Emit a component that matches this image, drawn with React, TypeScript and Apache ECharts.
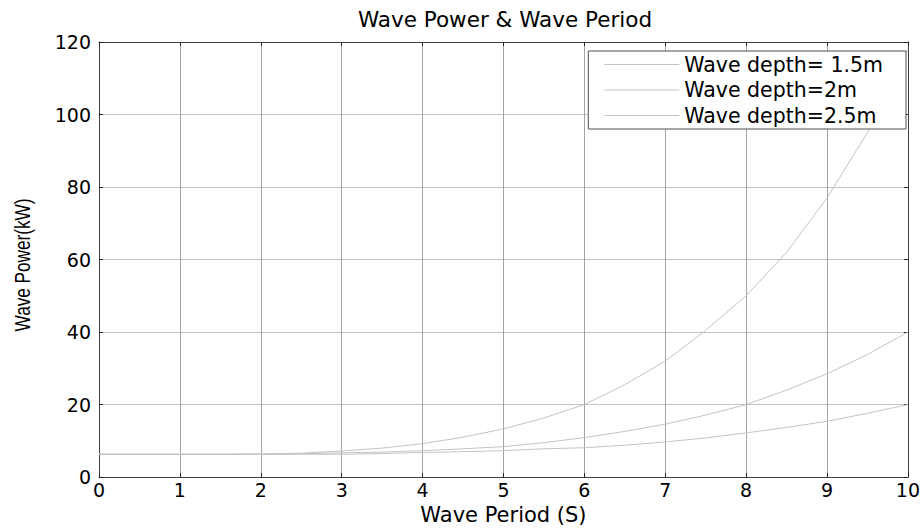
import React, { useEffect, useRef } from "react";
import * as echarts from "echarts";

const titleText = "Wave Power & Wave Period";
const xName = "Wave Period (S)";
const yName = "Wave Power(kW)";
const seriesNames = ["Wave depth= 1.5m", "Wave depth=2m", "Wave depth=2.5m"];

const periods = [0, 0.5, 1, 1.5, 2, 2.5, 3, 3.5, 4, 4.5, 5, 5.5, 6, 6.5, 7, 7.5, 8, 8.5, 9, 9.5, 10];
const depth15 = [6.3, 6.3, 6.3, 6.3, 6.4, 6.6, 7.2, 8.0, 9.2, 11.0, 13.3, 16.3, 20.0, 25.5, 32.0, 40.5, 50.0, 62.0, 77.0, 95.0, 118.0];
const depth20 = [6.3, 6.3, 6.3, 6.3, 6.3, 6.4, 6.7, 6.9, 7.3, 7.8, 8.4, 9.5, 10.9, 12.6, 14.6, 17.1, 20.0, 24.0, 28.5, 33.8, 40.0];
const depth25 = [6.3, 6.3, 6.3, 6.3, 6.3, 6.3, 6.3, 6.5, 6.8, 7.0, 7.3, 7.8, 8.1, 8.8, 9.7, 10.8, 12.2, 13.7, 15.4, 17.6, 20.0];
const seriesValues = [depth15, depth20, depth25];

const FONT = "DejaVu Sans, Liberation Sans, sans-serif";

export default function App() {
  const ref = useRef<HTMLDivElement>(null);
  useEffect(() => {
    if (!ref.current) return;
    const chart = echarts.init(ref.current, null, { renderer: "svg" });
    const baseAxis = {
      type: "value" as const,
      axisLine: { show: true, onZero: false, lineStyle: { color: "#404040", width: 1 } },
      axisTick: { show: true, inside: true, length: 4, lineStyle: { color: "#202020" } },
    };
    chart.setOption({
      animation: false,
      backgroundColor: "#ffffff",
      title: {
        text: titleText,
        left: 500,
        top: 3,
        textAlign: "center",
        textStyle: { fontFamily: FONT, fontSize: 21.5, fontWeight: "normal", color: "#000" },
      },
      legend: {
        orient: "vertical",
        right: 17,
        top: 51,
        padding: [3, 23, 3, 16],
        itemGap: 4.5,
        itemWidth: 75,
        itemHeight: 1,
        icon: "rect",
        backgroundColor: "#ffffff",
        borderColor: "#505050",
        borderWidth: 1,
        borderRadius: 0,
        data: seriesNames,
        textStyle: { fontFamily: FONT, fontSize: 20.5, lineHeight: 21, color: "#000" },
      },
      grid: { left: 99, right: 14, top: 42, bottom: 43, containLabel: false },
      graphic: [
        {
          type: "text",
          x: 22,
          y: 265,
          rotation: Math.PI / 2,
          scaleX: 0.78,
          style: {
            text: yName,
            fontFamily: "Liberation Sans, sans-serif",
            fontSize: 22,
            fill: "#000",
            align: "center",
            verticalAlign: "middle",
          },
        },
      ],
      xAxis: [
        {
          ...baseAxis,
          position: "bottom",
          min: 0,
          max: 10,
          interval: 1,
          name: xName,
          nameLocation: "middle",
          nameGap: 24,
          nameTextStyle: { fontFamily: FONT, fontSize: 21, color: "#000", verticalAlign: "top" },
          axisLabel: { fontFamily: FONT, fontSize: 19, color: "#000", margin: 3 },
          splitLine: { show: true, lineStyle: { color: "#a4a4a4", width: 1 } },
        },
        {
          ...baseAxis,
          position: "top",
          min: 0,
          max: 10,
          interval: 1,
          axisLabel: { show: false },
          splitLine: { show: false },
        },
      ],
      yAxis: [
        {
          ...baseAxis,
          position: "left",
          min: 0,
          max: 120,
          interval: 20,
          axisLabel: { fontFamily: FONT, fontSize: 19, color: "#000", margin: 8 },
          splitLine: { show: true, lineStyle: { color: "#c4c4c4", width: 1 } },
        },
        {
          ...baseAxis,
          position: "right",
          min: 0,
          max: 120,
          interval: 20,
          axisLabel: { show: false },
          splitLine: { show: false },
        },
      ],
      series: seriesNames.map((name, i) => ({
        name,
        type: "line",
        xAxisIndex: 0,
        yAxisIndex: 0,
        symbol: "none",
        showSymbol: false,
        clip: true,
        color: "#c4c4c4",
        lineStyle: { color: "#c4c4c4", width: 1 },
        data: periods.map((p, j) => [p, seriesValues[i][j]]),
      })),
    });
    return () => chart.dispose();
  }, []);
  return (
    <div
      ref={ref}
      style={{ position: "absolute", left: 0, top: 0, width: 923, height: 530 }}
    />
  );
}
